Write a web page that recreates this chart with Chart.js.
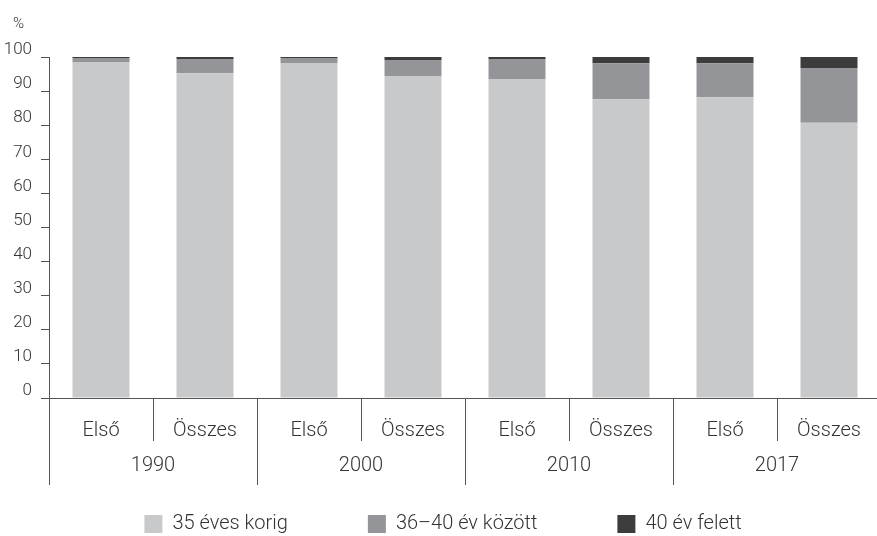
<!DOCTYPE html>
<html>
<head>
<meta charset="utf-8">
<script src="https://cdn.jsdelivr.net/npm/chart.js@4"></script>
<style>
  html, body { margin: 0; padding: 0; background: #fff; overflow: hidden; width: 877px; height: 536px; }
  canvas { display: block; }
</style>
</head>
<body>
<canvas id="c" width="884" height="536"></canvas>
<script>
const categories = ["Első", "Összes", "Első", "Összes", "Első", "Összes", "Első", "Összes"];
const years = ["1990", "2000", "2010", "2017"];
const seriesNames = ["35 éves korig", "36–40 év között", "40 év felett"];
const upTo35 = [98.5, 95.2, 98.1, 94.3, 93.4, 87.6, 88.2, 80.7];
const from36to40 = [1.2, 4.2, 1.6, 4.8, 6.0, 10.6, 10.0, 16.1];
const over40 = [0.3, 0.6, 0.3, 0.9, 0.6, 1.8, 1.8, 3.2];
const yTicks = [0, 10, 20, 30, 40, 50, 60, 70, 80, 90, 100];

const FONT = "Roboto";
const TEXT = "#333333";
const AXIS = "#555555";

const percentPlugin = {
  id: "percentLabel",
  afterDraw(chart) {
    const ctx = chart.ctx;
    ctx.save();
    ctx.font = "300 15px " + FONT;
    ctx.fillStyle = TEXT;
    ctx.textAlign = "left";
    ctx.textBaseline = "middle";
    ctx.fillText("%", 13, 24);
    ctx.restore();
  }
};

new Chart(document.getElementById("c"), {
  type: "bar",
  data: {
    labels: categories,
    datasets: [
      { label: seriesNames[0], data: upTo35, backgroundColor: "#c8c9cb" },
      { label: seriesNames[1], data: from36to40, backgroundColor: "#949599" },
      { label: seriesNames[2], data: over40, backgroundColor: "#3c3c3c" }
    ]
  },
  plugins: [percentPlugin],
  options: {
    responsive: false,
    animation: false,
    devicePixelRatio: 1,
    layout: { padding: { left: 5, right: 3, top: 57, bottom: 0 } },
    datasets: { bar: { categoryPercentage: 1, barPercentage: 0.548, borderWidth: 0 } },
    scales: {
      x: {
        stacked: true,
        position: "bottom",
        offset: true,
        afterFit(scale) { scale.height = 36; },
        grid: { offset: true, drawOnChartArea: false, tickLength: 43, color: AXIS, lineWidth: 1 },
        border: { display: true, color: AXIS, width: 1 },
        ticks: { mirror: true, color: TEXT, font: { family: FONT, size: 20, weight: "300" }, padding: -45, maxRotation: 0, autoSkip: false }
      },
      x2: {
        type: "category",
        labels: years,
        position: "bottom",
        offset: true,
        afterFit(scale) { scale.height = 0; },
        grid: { offset: true, drawOnChartArea: false, tickLength: 51, color: AXIS, lineWidth: 1 },
        border: { display: false },
        ticks: { mirror: true, color: TEXT, font: { family: FONT, size: 20, weight: "300" }, padding: -44, maxRotation: 0, autoSkip: false }
      },
      y: {
        stacked: true,
        min: 0,
        max: 100,
        afterBuildTicks(scale) { scale.ticks = yTicks.map(v => ({ value: v })); },
        afterFit(scale) { scale.width = 44; },
        grid: { drawOnChartArea: false, tickLength: 8, color: AXIS, lineWidth: 1 },
        border: { display: true, color: AXIS, width: 1 },
        ticks: { color: TEXT, font: { family: FONT, size: 17, weight: "300" }, padding: 9, labelOffset: -7 }
      }
    },
    plugins: {
      legend: {
        position: "bottom",
        maxHeight: 102,
        labels: {
          boxWidth: 18, boxHeight: 18, padding: 80,
          color: TEXT, font: { family: FONT, size: 20, weight: "300" },
          generateLabels(chart) {
            return chart.data.datasets.map((d, i) => ({
              text: d.label, fillStyle: d.backgroundColor, strokeStyle: d.backgroundColor,
              lineWidth: 0, hidden: false, datasetIndex: i, fontColor: TEXT
            }));
          }
        }
      },
      tooltip: { enabled: false },
      title: { display: false }
    }
  }
});
</script>
</body>
</html>
